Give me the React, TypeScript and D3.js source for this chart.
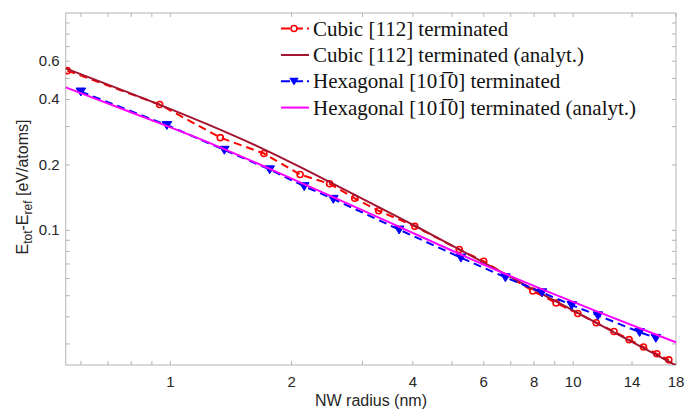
import React from "react";
import * as d3 from "d3";

// DFT data
const cubicR = [0.555, 0.941, 1.331, 1.708, 2.1, 2.486, 2.869, 3.291, 4.045, 5.215, 5.998, 7.94, 9.07, 10.27, 11.41, 12.63, 13.77, 14.95, 16.13, 17.28];
const cubicE = [0.543, 0.379, 0.267, 0.2256, 0.1806, 0.1637, 0.1404, 0.123, 0.1043, 0.0816, 0.072, 0.0526, 0.0463, 0.04145, 0.03756, 0.03424, 0.03139, 0.02905, 0.02703, 0.02535];
const hexR = [0.5997, 0.981, 1.362, 1.765, 2.15, 2.539, 3.699, 5.265, 6.79, 8.37, 9.92, 11.52, 14.62, 16.04];
const hexE = [0.4347, 0.3047, 0.2344, 0.1906, 0.1595, 0.1394, 0.1007, 0.0748, 0.0607, 0.0518, 0.04527, 0.04058, 0.034, 0.03196];
// Analytical curves
const cubicAnR = [0.55, 0.937, 1.272, 1.694, 2.13, 2.804, 4.045, 6.25, 7.94, 10.27, 18];
const cubicAnE = [0.5562, 0.3807, 0.3015, 0.2387, 0.1931, 0.1489, 0.1054, 0.06825, 0.05358, 0.04167, 0.02388];
const hexAnR = [0.55, 0.944, 1.257, 1.763, 2.804, 5.265, 6.81, 10.47, 18];
const hexAnE = [0.4546, 0.3102, 0.2531, 0.192, 0.1311, 0.0771, 0.0627, 0.0451, 0.03048];

const xMajor = [1, 2, 4, 6, 8, 10, 14, 18];
const xMinor = [0.6, 0.7, 0.8, 0.9, 3, 5, 7, 9];
const yMajor = [0.1, 0.2, 0.4, 0.6];
const yMinor = [0.03, 0.04, 0.05, 0.06, 0.07, 0.08, 0.09, 0.3, 0.5, 0.7, 0.8, 0.9];

const W = 686, H = 410;
const L = 65.7, R = 676, T = 13, B = 365;

export default function App() {
  const x = d3.scaleLog().domain([0.55, 18]).range([L, R]);
  const y = d3.scaleLog().domain([0.024, 1]).range([B, T]);
  const line = (xs: number[], ys: number[], curve: any = d3.curveLinear) =>
    d3.line<number>().x((_, i) => x(xs[i])).y((_, i) => y(ys[i])).curve(curve)(xs.map((_, i) => i)) || "";

  const axisColor = "#b3b3b3";
  const tickColor = "#262626";
  const tl = 4;
  const allX = [...xMajor, ...xMinor];
  const allY = [...yMajor, ...yMinor];
  const tri = (cx: number, cy: number, s = 4.8) => `M${cx - s},${cy - s * 0.75}L${cx + s},${cy - s * 0.75}L${cx},${cy + s * 0.9}Z`;

  const legX0 = 281, legX1 = 309, legText = 313;
  const legY = [28.5, 55, 81.3, 107.6];
  const legFont = { fontFamily: "'DejaVu Serif', 'Liberation Serif', serif", fontSize: 21, fill: "#111" };
  const legFont2 = { fontFamily: "'Liberation Serif', 'DejaVu Serif', serif", fontSize: 21, fill: "#111" };
  const bar1 = "1\u0305";

  return (
    <svg width={W} height={H} style={{ position: "absolute", left: 0, top: 0 }}>
      <rect x={0} y={0} width={W} height={H} fill="#fff" />
      <defs>
        <clipPath id="pc"><rect x={L} y={T} width={R - L} height={B - T} /></clipPath>
      </defs>
      <rect x={L} y={T} width={R - L} height={B - T} fill="none" stroke={axisColor} strokeWidth={1} />
      {allX.map((v, i) => (
        <g key={"xt" + i} stroke={axisColor} strokeWidth={1}>
          <line x1={x(v)} x2={x(v)} y1={B} y2={B - tl} />
          <line x1={x(v)} x2={x(v)} y1={T} y2={T + tl} />
        </g>
      ))}
      {allY.map((v, i) => (
        <g key={"yt" + i} stroke={axisColor} strokeWidth={1}>
          <line x1={L} x2={L + tl} y1={y(v)} y2={y(v)} />
          <line x1={R} x2={R - tl} y1={y(v)} y2={y(v)} />
        </g>
      ))}
      {xMajor.map((v, i) => (
        <text key={"xl" + i} x={x(v)} y={387} textAnchor="middle" fontFamily="'Liberation Sans', Arial, sans-serif" fontSize={15} fill={tickColor}>{v}</text>
      ))}
      {yMajor.map((v, i) => (
        <text key={"yl" + i} x={L - 6} y={y(v) + 5} textAnchor="end" fontFamily="'Liberation Sans', Arial, sans-serif" fontSize={15} fill={tickColor}>{v}</text>
      ))}
      <text x={371} y={406} textAnchor="middle" fontFamily="'Liberation Sans', Arial, sans-serif" fontSize={16} fill={tickColor}>NW radius (nm)</text>
      <text transform={`translate(28,187) rotate(-90)`} textAnchor="middle" fontFamily="'Liberation Sans', Arial, sans-serif" fontSize={16} fill={tickColor}>
        E<tspan fontSize={12} dy={4}>tot</tspan><tspan dy={-4}>-E</tspan><tspan fontSize={12} dy={4}>ref</tspan><tspan dy={-4}> [eV/atoms]</tspan>
      </text>

      <g clipPath="url(#pc)">
        <path d={line(cubicR, cubicE)} fill="none" stroke="#ff0000" strokeWidth={2} strokeDasharray="8,5" />
        {cubicR.map((v, i) => (
          <circle key={"c" + i} cx={x(v)} cy={y(cubicE[i])} r={3} fill="none" stroke="#ff0000" strokeWidth={1.6} />
        ))}
        <path d={line(cubicAnR, cubicAnE, d3.curveBasis)} fill="none" stroke="#a2142f" strokeWidth={2} />
        <path d={line(hexR, hexE)} fill="none" stroke="#0000ff" strokeWidth={2} strokeDasharray="8,5" />
        {hexR.map((v, i) => (
          <path key={"h" + i} d={tri(x(v), y(hexE[i]))} fill="#0000ff" stroke="#0000ff" strokeWidth={1} />
        ))}
        <path d={line(hexAnR, hexAnE, d3.curveBasis)} fill="none" stroke="#ff00ff" strokeWidth={2} />
      </g>

      <g>
        <line x1={legX0} x2={legX1} y1={legY[0]} y2={legY[0]} stroke="#ff0000" strokeWidth={2} strokeDasharray="9,4,0,0" />
        <circle cx={(legX0 + legX1) / 2 - 1} cy={legY[0]} r={3} fill="#fff" stroke="#ff0000" strokeWidth={1.6} />
        <text x={legText} y={legY[0] + 7} {...legFont2}>Cubic [112] terminated</text>
        <line x1={legX0} x2={legX1} y1={legY[1]} y2={legY[1]} stroke="#a2142f" strokeWidth={2} />
        <text x={legText} y={legY[1] + 7} {...legFont2}>Cubic [112] terminated (analyt.)</text>
        <line x1={legX0} x2={legX1} y1={legY[2]} y2={legY[2]} stroke="#0000ff" strokeWidth={2} strokeDasharray="9,4,0,0" />
        <path d={tri((legX0 + legX1) / 2 - 1, legY[2])} fill="#0000ff" />
        <text x={legText} y={legY[2] + 7} {...legFont2}>{`Hexagonal [10${bar1}0] terminated`}</text>
        <line x1={legX0} x2={legX1} y1={legY[3]} y2={legY[3]} stroke="#ff00ff" strokeWidth={2} />
        <text x={legText} y={legY[3] + 7} {...legFont2}>{`Hexagonal [10${bar1}0] terminated (analyt.)`}</text>
      </g>
    </svg>
  );
}
